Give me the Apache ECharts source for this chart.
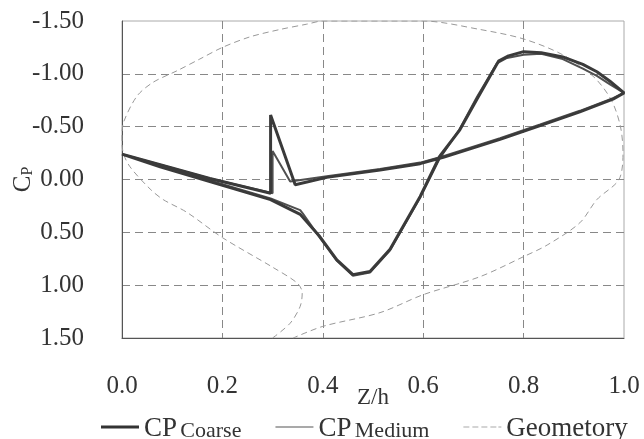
<!DOCTYPE html>
<html>
<head>
<meta charset="utf-8">
<script src="https://cdn.jsdelivr.net/npm/echarts@6/dist/echarts.min.js"></script>
<style>
  html, body { margin: 0; padding: 0; background: #fff; }
  #chart { width: 644px; height: 439px; }
</style>
</head>
<body>
<div id="chart"></div>
<script>
// Z/h and Cp
const coarseZ = [0, 0.076, 0.175, 0.296, 0.296, 0.345, 0.408, 0.514, 0.594, 0.64, 0.753, 0.833, 0.912, 0.978, 1.0,
  0.972, 0.946, 0.918, 0.878, 0.835, 0.80, 0.77, 0.75, 0.707, 0.673, 0.633, 0.594, 0.534, 0.494, 0.46, 0.428,
  0.394, 0.355, 0.296, 0.175, 0.076, 0]
const coarseCp = [-0.24, -0.14, -0.01, 0.13, -0.61, 0.05, -0.02, -0.09, -0.15, -0.21, -0.38, -0.51, -0.64, -0.76, -0.82,
  -0.93, -1.02, -1.09, -1.16, -1.20, -1.21, -1.17, -1.12, -0.76, -0.47, -0.22, 0.16, 0.66, 0.87, 0.90, 0.76,
  0.54, 0.33, 0.19, 0.02, -0.12, -0.24]

const mediumZ = [0, 0.076, 0.175, 0.296, 0.355, 0.36, 0.394, 0.428, 0.46, 0.494, 0.534, 0.594, 0.633, 0.673, 0.707,
  0.747, 0.767, 0.80, 0.835, 0.878, 0.918, 0.946, 0.972, 1.0, 0.978, 0.912, 0.833, 0.753, 0.64, 0.594, 0.514,
  0.408, 0.335, 0.30, 0.30, 0.175, 0.076, 0]
const mediumCp = [-0.24, -0.13, 0.01, 0.18, 0.29, 0.32, 0.55, 0.77, 0.91, 0.88, 0.67, 0.17, -0.20, -0.48, -0.78,
  -1.10, -1.15, -1.18, -1.19, -1.14, -1.05, -0.98, -0.90, -0.82, -0.77, -0.65, -0.52, -0.39, -0.22, -0.16, -0.10,
  -0.03, 0.02, -0.27, 0.13, -0.01, -0.14, -0.24]

const geoZ = [0.30, 0.335, 0.355, 0.359, 0.349, 0.30, 0.2, 0.129, 0.082, 0.056, 0.016, 0.002, 0, 0.003, 0.03,
  0.062, 0.11, 0.155, 0.2, 0.255, 0.315, 0.368, 0.40, 0.6, 0.713, 0.80, 0.878, 0.94, 0.975, 0.993, 0.998,
  0.99, 0.946, 0.912, 0.847, 0.80, 0.713, 0.60, 0.514, 0.40, 0.341]
const geoCp = [1.50, 1.36, 1.20, 1.07, 0.98, 0.83, 0.55, 0.31, 0.19, 0.09, -0.12, -0.26, -0.40, -0.54, -0.79,
  -0.92, -1.03, -1.14, -1.25, -1.35, -1.42, -1.47, -1.50, -1.50, -1.42, -1.33, -1.18, -0.97, -0.75, -0.50, -0.25,
  0.0, 0.19, 0.41, 0.62, 0.73, 0.92, 1.09, 1.26, 1.39, 1.50]

const pairs = (xs, ys) => xs.map((x, i) => [x, ys[i]])

const font = 'Liberation Serif'
const chart = echarts.init(document.getElementById('chart'))

chart.setOption({
  backgroundColor: '#fff',
  animation: false,
  grid: {
    left: 122,
    right: 20,
    top: 21,
    bottom: 101,
    containLabel: false,
    outerBoundsMode: 'none',
    show: true,
    borderColor: '#aaa',
    borderWidth: 1
  },
  xAxis: {
    type: 'value',
    min: 0,
    max: 1,
    interval: 0.2,
    name: 'Z/h',
    nameLocation: 'middle',
    nameGap: 48,
    nameMoveOverlap: false,
    nameTextStyle: { fontFamily: font, fontSize: 23, color: '#333' },
    axisLine: { onZero: false, lineStyle: { color: '#555', width: 1 } },
    axisTick: { show: false },
    axisLabel: {
      margin: 36,
      fontFamily: font,
      fontSize: 25,
      color: '#333',
      formatter: v => v.toFixed(1)
    },
    splitLine: {
      showMinLine: false,
      showMaxLine: false,
      lineStyle: { color: '#888', type: [8, 5], width: 1 }
    }
  },
  yAxis: {
    type: 'value',
    inverse: true,
    min: -1.5,
    max: 1.5,
    interval: 0.5,
    name: '{c|C}{p|P}',
    nameLocation: 'middle',
    nameGap: 86,
    nameMoveOverlap: false,
    nameRotate: 90,
    nameTextStyle: {
      rich: {
        c: { fontFamily: font, fontSize: 25, color: '#333' },
        p: { fontFamily: font, fontSize: 16, color: '#333', verticalAlign: 'bottom', padding: [8, 0, 0, 0] }
      }
    },
    axisLine: { onZero: false, lineStyle: { color: '#555', width: 1 } },
    axisTick: { show: false },
    axisLabel: {
      margin: 38,
      fontFamily: font,
      fontSize: 25,
      color: '#333',
      formatter: v => v.toFixed(2)
    },
    splitLine: {
      showMinLine: false,
      showMaxLine: false,
      lineStyle: { color: '#888', type: [8, 5], width: 1 }
    }
  },
  legend: {
    top: 410,
    left: 96,
    itemWidth: 38,
    itemHeight: 14,
    itemGap: 34,
    data: [
      { name: 'CP Coarse', icon: 'path://M0,0H38V3H0Z', itemStyle: { color: '#333' } },
      { name: 'CP Medium', icon: 'path://M0,0H38V1.2H0Z', itemStyle: { color: '#555' } },
      {
        name: 'Geometory',
        icon: 'path://M0,0H6V1H0ZM9,0H15V1H9ZM18,0H24V1H18ZM27,0H33V1H27ZM35,0H38V1H35Z',
        itemStyle: { color: '#aaa' }
      }
    ],
    formatter: name => {
      const parts = name.split(' ')
      if (parts.length > 1) return '{b|' + parts[0] + '} {s|' + parts[1] + '}'
      return '{b|' + name + '}'
    },
    textStyle: {
      rich: {
        b: { fontFamily: font, fontSize: 27, color: '#333', lineHeight: 30, verticalAlign: 'bottom' },
        s: { fontFamily: font, fontSize: 22, color: '#333', lineHeight: 25, verticalAlign: 'bottom' }
      }
    }
  },
  series: [
    {
      name: 'CP Coarse',
      type: 'line',
      data: pairs(coarseZ, coarseCp),
      symbol: 'none',
      lineStyle: { color: '#3a3a3a', width: 3 },
      itemStyle: { color: '#3a3a3a' },
      z: 4
    },
    {
      name: 'CP Medium',
      type: 'line',
      data: pairs(mediumZ, mediumCp),
      symbol: 'none',
      lineStyle: { color: '#505050', width: 2 },
      itemStyle: { color: '#505050' },
      z: 3
    },
    {
      name: 'Geometory',
      type: 'line',
      data: pairs(geoZ, geoCp),
      symbol: 'none',
      smooth: 0.3,
      lineStyle: { color: '#999', width: 1, type: [6, 4] },
      itemStyle: { color: '#999' },
      z: 2
    }
  ]
})
</script>
</body>
</html>
